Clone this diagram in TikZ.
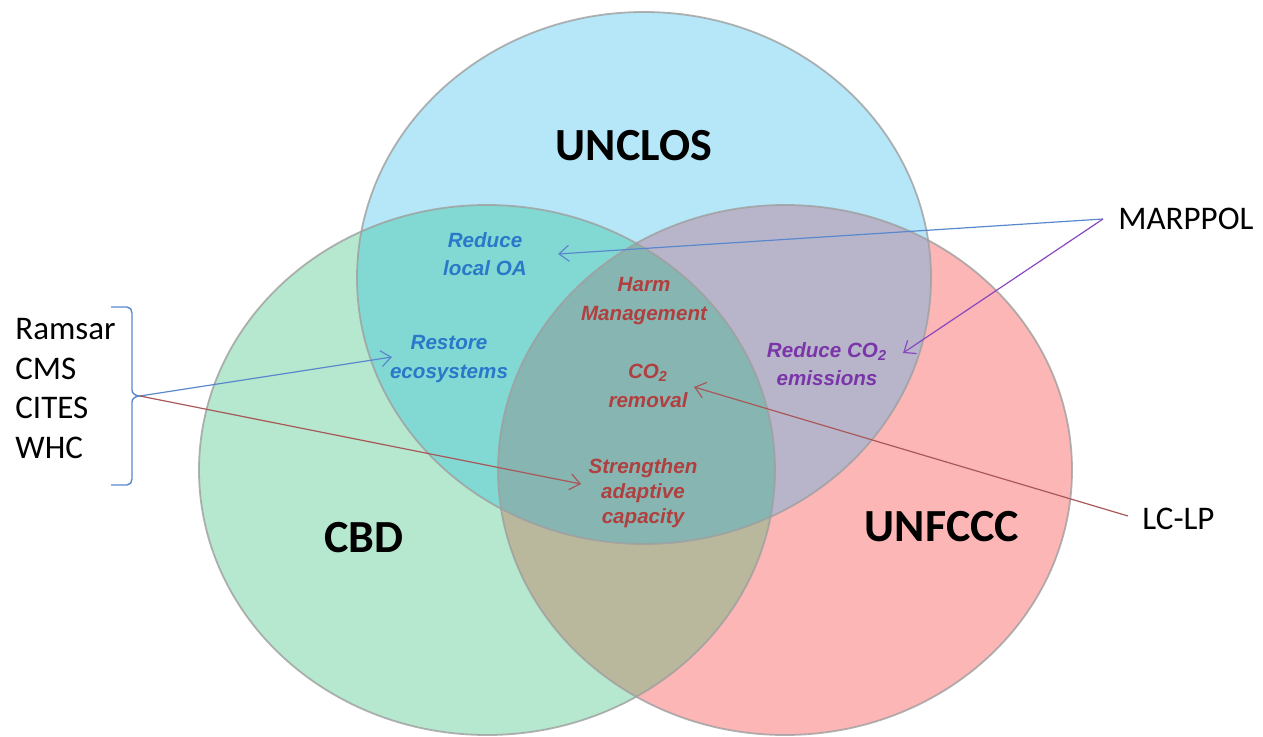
\documentclass[tikz,border=0pt]{standalone}
\usepackage{fontspec}
\setmainfont{Carlito}
\newfontfamily\arialf{Liberation Sans}
\usetikzlibrary{arrows.meta}
\definecolor{cblue}{HTML}{B6E7F8}
\definecolor{cgreen}{HTML}{B6E7CF}
\definecolor{cpink}{HTML}{FCB6B6}
\definecolor{cteal}{HTML}{82D9D4}
\definecolor{cmauve}{HTML}{B8B5CB}
\definecolor{ckhaki}{HTML}{BAB89C}
\definecolor{ccenter}{HTML}{87B5B1}
\definecolor{tblue}{HTML}{2A78C8}
\definecolor{tred}{HTML}{B0403F}
\definecolor{tpurple}{HTML}{7A35A8}
\definecolor{ablue}{HTML}{5A88CC}
\definecolor{ared}{HTML}{A85858}
\definecolor{apurple}{HTML}{8A48C0}
\tikzset{
  big/.style={font=\fontsize{23}{27}\selectfont\bfseries, text=black},
  side/.style={font=\fontsize{16.5}{19.8}\selectfont, text=black, align=left, inner sep=0pt},
  inner/.style={font=\arialf\fontsize{10.3}{14.3}\selectfont\bfseries\itshape, align=center, inner sep=0pt},
  conn/.style={line width=0.6pt, -{Straight Barb[length=5pt,width=8pt]}},
  rim/.style={draw=gray!75, line width=0.9pt, draw opacity=0.8}
}
\newcommand{\shUNCLOS}{(644,278) ellipse [x radius=143.5pt, y radius=133pt]}
\newcommand{\shCBD}{(487,470) ellipse [x radius=144pt, y radius=132.5pt]}
\newcommand{\shUNF}{(785,470) ellipse [x radius=143.5pt, y radius=132.5pt]}
\begin{document}
\begin{tikzpicture}[x=0.5pt,y=-0.5pt]
\useasboundingbox (0,0) rectangle (1263,737);
% base fills
\fill[cgreen] \shCBD;
\fill[cpink] \shUNF;
\fill[cblue] \shUNCLOS;
% overlaps
\begin{scope}\clip \shCBD; \fill[ckhaki] \shUNF; \end{scope}
\begin{scope}\clip \shCBD; \fill[cteal] \shUNCLOS; \end{scope}
\begin{scope}\clip \shUNF; \fill[cmauve] \shUNCLOS; \end{scope}
\begin{scope}\clip \shCBD; \clip \shUNF; \fill[ccenter] \shUNCLOS; \end{scope}
% outlines
\draw[rim] \shCBD;
\draw[rim] \shUNF;
\draw[rim] \shUNCLOS;
% big labels
\node[big] (unclos) at (634,146) {UNCLOS};
\node[big] (cbd) at (364,538) {CBD};
\node[big] (unfccc) at (942,527) {UNFCCC};
% side labels
\node[side, anchor=west] (marpol) at (1118,219) {MARPPOL};
\node[side, anchor=west] (lclp) at (1142,519) {LC-LP};
\node[side, anchor=north west] (list) at (15,318) {Ramsar\\CMS\\CITES\\WHC};
% bracket
\coordinate (tip) at (140,396);
\draw[ablue, line width=0.7pt] (111,307) -- (127,307) to[out=0,in=90] (132,313) -- (132,390) to[out=-90,in=180] (tip) to[out=180,in=90] (132,402) -- (132,479) to[out=-90,in=0] (127,485) -- (111,485);
% inner texts
\node[inner, text=tblue] (oa) at (485,254) {Reduce\\local OA};
\node[inner, text=tblue] (rest) at (449,359) {Restore\\ecosystems};
\node[inner, text=tred] (harm) at (644,301) {Harm\\Management};
\node[inner, text=tred] (co2r) at (648,386) {CO\textsubscript{2}\\removal};
\node[inner, text=tred, font=\arialf\fontsize{10.3}{12.6}\selectfont\bfseries\itshape] (stren) at (643,493) {Strengthen\\adaptive\\capacity};
\node[inner, text=tpurple] (rco2) at (827,364) {Reduce CO\textsubscript{2}\\emissions};
% connector end points
\coordinate (mp) at (1103,219);
\coordinate (lp) at (1128,516);
\coordinate (eOA) at (558,254);
\coordinate (eR) at (903,353);
\coordinate (eRest) at (392,357);
\coordinate (eStr) at (581,484);
\coordinate (eCO) at (694,387);
% connectors
\draw[conn, ablue] (mp) -- (eOA);
\draw[conn, apurple] (mp) -- (eR);
\draw[conn, ablue] (tip) -- (eRest);
\draw[conn, ared] (tip) -- (eStr);
\draw[conn, ared] (lp) -- (eCO);
\end{tikzpicture}
\end{document}
